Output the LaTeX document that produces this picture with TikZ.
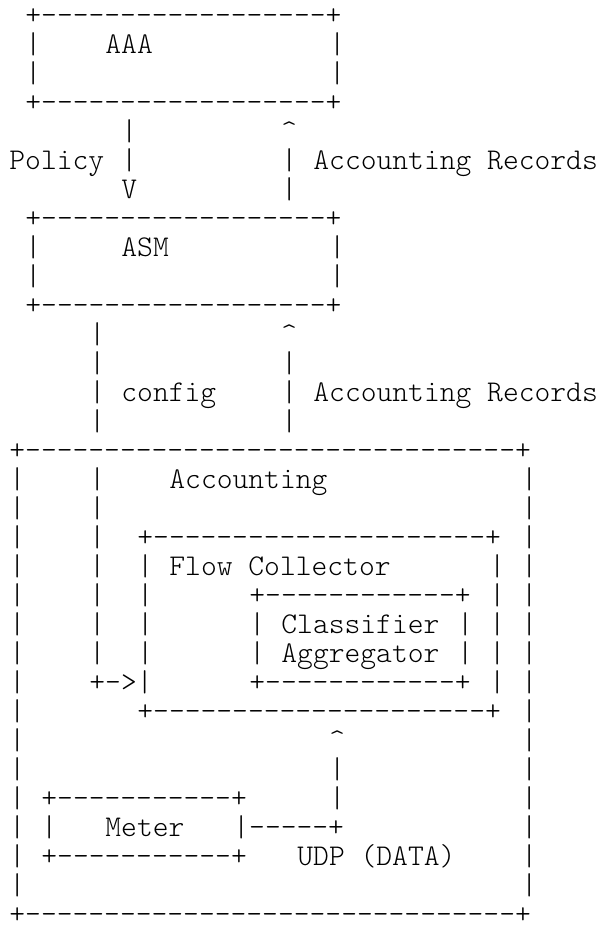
\documentclass[tikz,border=0pt]{standalone}
\usepackage{fontspec}
\setmonofont{lmmonolt10-regular.otf}
\tikzset{
	ascii/.style={font=\ttfamily\fontsize{15.05}{17}\selectfont, inner sep=0pt, anchor=base west},
}
\begin{document}
\begin{tikzpicture}[x=8pt, y=-14.5pt]
	\useasboundingbox (0pt,0pt) rectangle (301pt,-464pt);
	\begin{scope}[shift={(4.5pt,-12pt)}]
		% box edges
		\foreach \c/\r/\t [count=\i] in {1/0/+------------------+, 1/3/+------------------+,
			1/7/+------------------+, 1/10/+------------------+,
			0/15/+-------------------------------+, 0/31/+-------------------------------+,
			8/18/+---------------------+, 8/24/+---------------------+,
			15/20/+------------+, 15/23/+------------+,
			2/27/+-----------+, 2/29/+-----------+}{
			\node[ascii] (edge\i) at (\c,\r) {\t};
		}
		
		% box sides and lines
		\foreach \c/\r [count=\i] in {1/1, 1/2, 20/1, 20/2, 1/8, 1/9, 20/8, 20/9,
			7/4, 7/5, 17/5, 17/6, 17/12, 17/13, 17/14,
			5/11, 5/12, 5/13, 5/14, 5/16, 5/17, 5/18, 5/19, 5/20, 5/21, 5/22,
			8/19, 8/20, 8/21, 8/22, 30/19, 30/20, 30/21, 30/22, 30/23,
			15/21, 15/22, 28/21, 28/22, 20/26, 20/27, 2/28}{
			\node[ascii] (side\i) at (\c,\r) {|};
		}
		\foreach \r in {16,...,30}{
			\node[ascii] (outerl\r) at (0,\r) {|};
			\node[ascii] (outerr\r) at (32,\r) {|};
		}
		
		% arrow heads
		\foreach \c/\r [count=\i] in {17/4, 17/11, 20/25}{
			\node[ascii] (up\i) at (\c,\r) {\textasciicircum};
		}
		\node[ascii] (down) at (7,6) {V};
		\node[ascii] (cfgin) at (5,23) {+->|};
		\node[ascii] (udp) at (14,28) {|-----+};
		
		% texts
		\foreach \c/\r/\t [count=\i] in {6/1/AAA, 7/8/ASM, 0/5/Policy, 19/5/Accounting Records,
			7/13/config, 19/13/Accounting Records, 10/16/Accounting, 10/19/Flow Collector,
			17/21/Classifier, 17/22/Aggregator, 6/28/Meter, 18/29/{UDP (DATA)}}{
			\node[ascii] (label\i) at (\c,\r) {\t};
		}
	\end{scope}
\end{tikzpicture}
\end{document}
